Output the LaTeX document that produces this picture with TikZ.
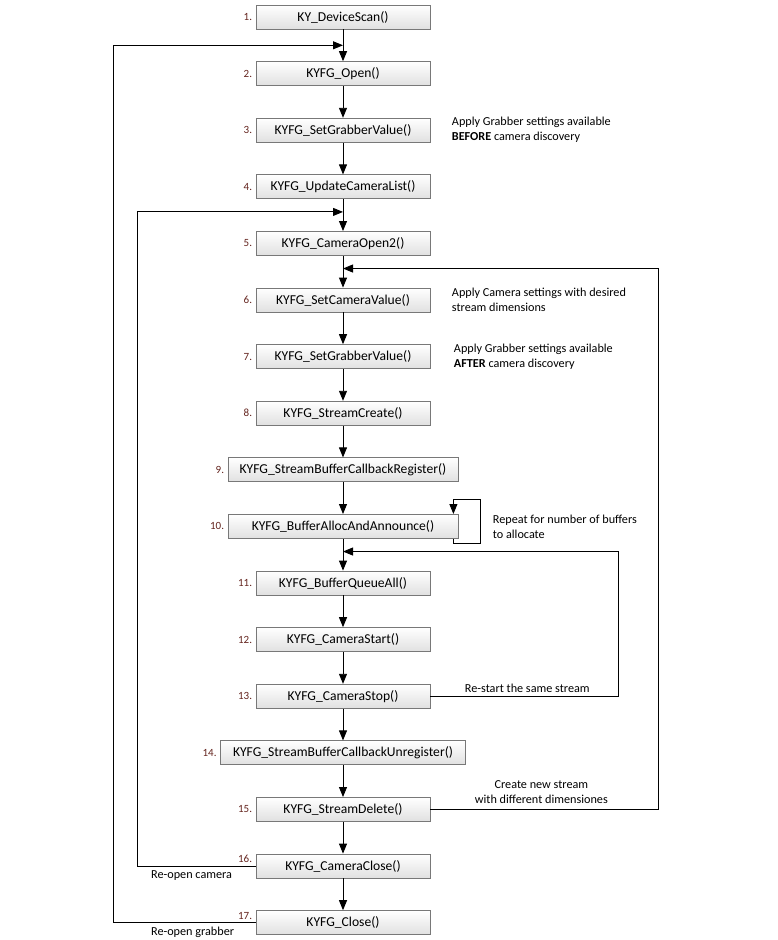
\documentclass[tikz,border=0pt]{standalone}
\usepackage{fontspec}
\setmainfont{Carlito}
\usetikzlibrary{arrows.meta,positioning,calc}
\definecolor{cbord}{RGB}{120,120,120}
\definecolor{cnum}{RGB}{100,36,30}
\tikzset{
  func/.style={
    rectangle, draw=cbord, line width=0.8pt,
    top color=white, bottom color=black!12,
    minimum width=174pt, minimum height=24pt,
    font=\fontsize{13.6}{15}\selectfont, inner sep=2pt
  },
  funcW/.style={func, minimum width=230pt},
  funcX/.style={func, minimum width=245pt},
  num/.style={font=\fontsize{11}{12}\selectfont, text=cnum},
  note/.style={font=\fontsize{12.2}{15}\selectfont, align=left, anchor=west},
  arr/.style={-{Triangle[length=10pt,width=8pt]}, line width=0.9pt, color=#1},
  arr/.default=black
}
\begin{document}
\begin{tikzpicture}[node distance=31.8pt]
  \useasboundingbox (0,0) rectangle (777pt,-940pt);

  %% ---- call sequence ----------------------------------------------
  \node[func, label={[num]left:1.}] (f1) at (343pt,-17pt) {KY\_DeviceScan()};
  \node[func, below=of f1, label={[num]left:2.}]   (f2)  {KYFG\_Open()};
  \node[func, below=of f2, label={[num]left:3.}]   (f3)  {KYFG\_SetGrabberValue()};
  \node[func, below=of f3, label={[num]left:4.}]   (f4)  {KYFG\_UpdateCameraList()};
  \node[func, below=of f4, label={[num]left:5.}]   (f5)  {KYFG\_CameraOpen2()};
  \node[func, below=of f5, label={[num]left:6.}]   (f6)  {KYFG\_SetCameraValue()};
  \node[func, below=of f6, label={[num]left:7.}]   (f7)  {KYFG\_SetGrabberValue()};
  \node[func, below=of f7, label={[num]left:8.}]   (f8)  {KYFG\_StreamCreate()};
  \node[funcW, below=of f8, label={[num]left:9.}]  (f9)  {KYFG\_StreamBufferCallbackRegister()};
  \node[funcW, below=of f9, label={[num]left:10.}] (f10) {KYFG\_BufferAllocAndAnnounce()};
  \node[func, below=of f10, label={[num]left:11.}] (f11) {KYFG\_BufferQueueAll()};
  \node[func, below=of f11, label={[num]left:12.}] (f12) {KYFG\_CameraStart()};
  \node[func, below=of f12, label={[num]left:13.}] (f13) {KYFG\_CameraStop()};
  \node[funcX, below=of f13, label={[num]left:14.}] (f14) {KYFG\_StreamBufferCallbackUnregister()};
  \node[func, below=of f14, label={[num]left:15.}] (f15) {KYFG\_StreamDelete()};
  \node[func, below=of f15, label={[num,yshift=7pt]left:16.}] (f16) {KYFG\_CameraClose()};
  \node[func, below=of f16, label={[num,yshift=7pt]left:17.}] (f17) {KYFG\_Close()};

  \foreach \a/\b in {f1/f2,f2/f3,f3/f4,f4/f5,f5/f6,f6/f7,f7/f8,f8/f9,
                     f9/f10,f10/f11,f11/f12,f12/f13,f13/f14,f14/f15,
                     f15/f16,f16/f17}
    \draw[arr] (\a) -- (\b);

  %% ---- notes ------------------------------------------------------
  \node[note, right=18pt of f3]
    {Apply Grabber settings available\\\textbf{BEFORE} camera discovery};
  \node[note, right=18pt of f6]
    {Apply Camera settings with desired\\stream dimensions};
  \node[note, right=20pt of f7]
    {Apply Grabber settings available\\\textbf{AFTER} camera discovery};
  \node[note, right=31pt of f10]
    {Repeat for number of buffers\\to allocate};

  %% ---- loops ------------------------------------------------------
  \coordinate (jg) at ($(f1.south)!0.5!(f2.north)$);
  \coordinate (jc) at ($(f4.south)!0.4!(f5.north)$);
  \coordinate (js) at ($(f5.south)!0.4!(f6.north)$);
  \coordinate (jr) at ($(f10.south)!0.4!(f11.north)$);

  \draw[arr] ([xshift=-5pt]f10.south east) -- ++(0,-5pt) -- ++(27pt,0)
    |- ([xshift=-5pt,yshift=15pt]f10.north east)
    -- ([xshift=-5pt]f10.north east);

  \draw[arr] (f13.east) -- ++(188pt,0) |- (jr);
  \node[note, anchor=south west] at ([xshift=31pt]f13.east)
    {Re-start the same stream};

  \draw[arr] (f15.east) -- ++(228pt,0) |- (js);
  \node[note, align=center, anchor=south] at ([xshift=111pt,yshift=2pt]f15.east)
    {Create new stream\\with different dimensiones};

  \draw[arr] (f16.west) -- ++(-118pt,0) |- (jc);
  \node[note, anchor=north] at ([xshift=-64pt,yshift=-1pt]f16.west)
    {Re-open camera};

  \draw[arr] (f17.west) -- ++(-142pt,0) |- (jg);
  \node[note, anchor=north] at ([xshift=-63pt,yshift=-1pt]f17.west)
    {Re-open grabber};

\end{tikzpicture}
\end{document}
